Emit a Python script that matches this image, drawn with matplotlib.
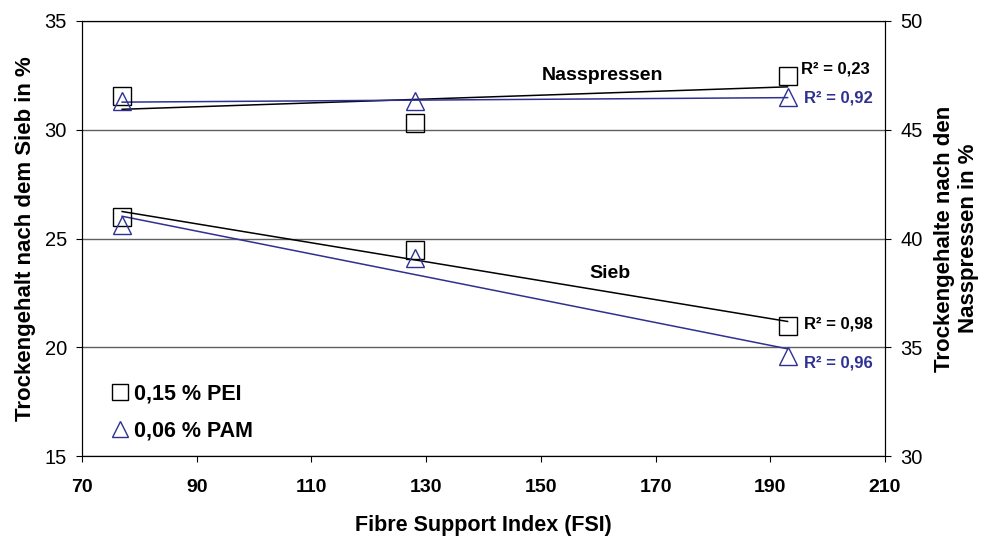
import numpy as np
import matplotlib
matplotlib.use("Agg")
import matplotlib.pyplot as plt
from matplotlib.lines import Line2D

plt.rcParams['font.family'] = ['Liberation Sans', 'DejaVu Sans']

# FSI-Werte
fsi = [77, 128, 193]

# Trockengehalt nach dem Sieb (linke Achse)
sieb_pei = [26.0, 24.45, 21.0]
sieb_pam = [25.6, 24.1, 19.6]

# Trockengehalt nach den Nasspressen (rechte Achse)
press_pei = [46.55, 45.3, 47.45]
press_pam = [46.3, 46.3, 46.5]

r2_labels = {
    "press_pei": "R² = 0,23",
    "press_pam": "R² = 0,92",
    "sieb_pei": "R² = 0,98",
    "sieb_pam": "R² = 0,96",
}

navy = '#2E3192'

fig = plt.figure(figsize=(9.89, 5.36), dpi=100)
ax = fig.add_axes([0.0829, 0.149, 0.812, 0.812])
ax2 = ax.twinx()


def trend(axis, x, y, color):
    k, d = np.polyfit(x, y, 1)
    xs = np.array([min(x), max(x)])
    axis.plot(xs, k * xs + d, color=color, lw=1.1, zorder=2)


# Sieb
trend(ax, fsi, sieb_pei, 'black')
trend(ax, fsi, sieb_pam, navy)
ax.plot(fsi, sieb_pei, 's', ms=13.5, mfc='none', mec='black', mew=1.0, zorder=3)
ax.plot(fsi, sieb_pam, '^', ms=13.5, mfc='none', mec=navy, mew=1.0, zorder=3)

# Nasspressen
trend(ax2, fsi, press_pei, 'black')
trend(ax2, fsi, press_pam, navy)
ax2.plot(fsi, press_pei, 's', ms=13.5, mfc='none', mec='black', mew=1.0, zorder=3)
ax2.plot(fsi, press_pam, '^', ms=13.5, mfc='none', mec=navy, mew=1.0, zorder=3)

# R² Beschriftungen
lbl = dict(fontsize=12, fontweight='bold', textcoords='offset points', va='center')
ax2.annotate(r2_labels["press_pei"], (fsi[-1], press_pei[-1]), xytext=(10, 5), color='black', **lbl)
ax2.annotate(r2_labels["press_pam"], (fsi[-1], press_pam[-1]), xytext=(12, -1), color=navy, **lbl)
ax.annotate(r2_labels["sieb_pei"], (fsi[-1], sieb_pei[-1]), xytext=(12, 1), color='black', **lbl)
ax.annotate(r2_labels["sieb_pam"], (fsi[-1], sieb_pam[-1]), xytext=(12, -5), color=navy, **lbl)

ax.text(160.7, 32.5, "Nasspressen", fontsize=14, fontweight='bold', ha='center', va='center')
ax.text(162, 23.4, "Sieb", fontsize=14, fontweight='bold', ha='center', va='center')

# Achsen
ax.set_xlim(70, 210)
ax.set_xticks(range(70, 211, 20))
ax.set_ylim(15, 35)
ax.set_yticks(range(15, 36, 5))
ax2.set_ylim(30, 50)
ax2.set_yticks(range(30, 51, 5))

ax.yaxis.grid(True, color='#606060', lw=1.0)
ax.set_axisbelow(True)

ax.tick_params(axis='x', direction='out', length=4.3, labelsize=14, pad=12)
ax.tick_params(axis='y', direction='out', length=4.3, labelsize=14.5, pad=6.5)
ax2.tick_params(axis='y', direction='out', length=4.3, labelsize=14.5, pad=6.5)
for t in ax.get_xticklabels():
    t.set_fontweight('bold')

ax.set_xlabel("Fibre Support Index (FSI)", fontsize=15.5, fontweight='bold', labelpad=14)
ax.set_ylabel("Trockengehalt nach dem Sieb in %", fontsize=16, fontweight='bold', labelpad=6)
ax2.set_ylabel("Trockengehalte nach den\nNasspressen in %", fontsize=16, fontweight='bold', labelpad=8)

# Legende
handles = [
    Line2D([], [], ls='none', marker='s', ms=11, mfc='none', mec='black', mew=1.0),
    Line2D([], [], ls='none', marker='^', ms=11, mfc='none', mec=navy, mew=1.0),
]
ax.legend(handles, ["0,15 % PEI", "0,06 % PAM"], loc='lower left', bbox_to_anchor=(0.013, -0.012),
          frameon=False, handlelength=0.8, handletextpad=0.25, labelspacing=0.75,
          prop={'size': 15.5, 'weight': 'bold'})

fig.savefig("out.png", dpi=100)
